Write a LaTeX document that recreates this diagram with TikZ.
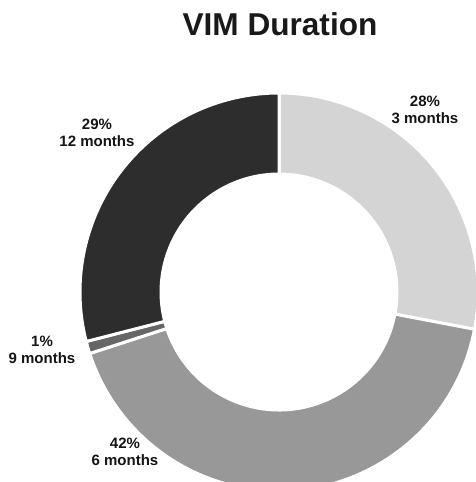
\documentclass[tikz,border=0pt]{standalone}
\usepackage{fontspec}
\setmainfont{Liberation Sans}
\usetikzlibrary{calc}

\definecolor{threemonths}{HTML}{D4D4D4}
\definecolor{sixmonths}{HTML}{989898}
\definecolor{ninemonths}{HTML}{666666}
\definecolor{twelvemonths}{HTML}{2D2D2D}

\tikzset{%
  % Specifications for style of slices and labels:
         slice/.style = {draw=white, line width=3pt, line join=miter},
         share/.style = {align=center, inner sep=0pt, text=black!92, font=\fontsize{15}{17}\selectfont\bfseries},
}

% one ring slice: start angle, end angle, colour
\newcommand{\ringslice}[3]{%
  \filldraw[slice, fill=#3] ($(mid)+(#1:199)$) arc (#1:#2:199) -- ($(mid)+(#2:118)$) arc (#2:#1:118) -- cycle;}

\begin{document}
\begin{tikzpicture}[x=1pt, y=1pt]
    \useasboundingbox (0,0) rectangle (476,-482);
    \clip (0,0) rectangle (476,-482);
    \coordinate (mid) at (279,-292);

    % Draw slices
    \ringslice{90}{-10.8}{threemonths}
    \ringslice{-10.8}{-162}{sixmonths}
    \ringslice{-162}{-165.6}{ninemonths}
    \ringslice{-165.6}{-270}{twelvemonths}

    % Draw title and labels
    \node (title)  [anchor=base, text=black!90, font=\fontsize{31.6}{36}\selectfont\bfseries] at (280,-35) {VIM Duration};
    \node (three)  [share] at (425,-109.5) {28\% \\ 3 months};
    \node (twelve) [share] at (97,-132.5)  {29\% \\ 12 months};
    \node (nine)   [share] at (42,-349.5)  {1\% \\ 9 months};
    \node (six)    [share] at (125,-451.5) {42\% \\ 6 months};
\end{tikzpicture}
\end{document}
